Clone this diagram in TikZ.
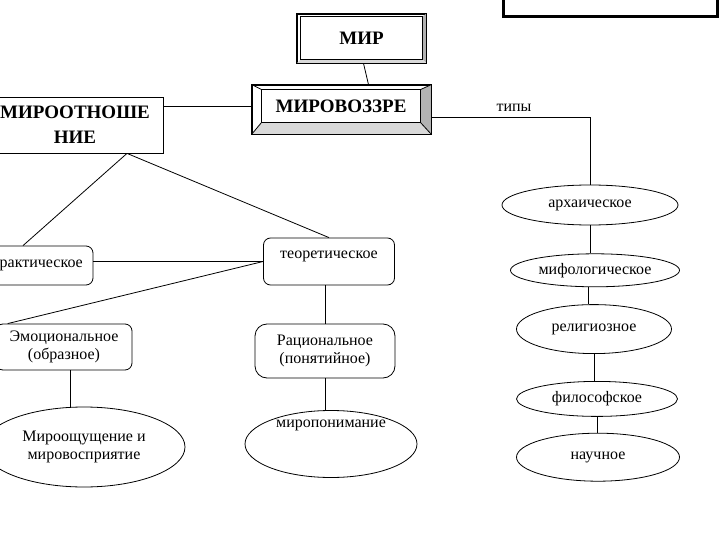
\documentclass[tikz,border=0pt]{standalone}
\usepackage{fontspec}
\setmainfont{Liberation Serif}
\usetikzlibrary{shapes, positioning, calc}

\begin{document}
\begin{tikzpicture}[x=1pt,y=-1pt,font=\fontsize{16}{17.5}\selectfont,line width=0.8pt]

	\tikzset{node title/.style={draw, font=\fontsize{19}{25}\selectfont\bfseries,
			align=center, inner sep=0pt}}
	\tikzset{node box/.style={draw, rounded corners=7pt, align=center, inner sep=0pt}}
	\tikzset{node oval/.style={draw, ellipse, align=center, inner sep=0pt}}
	\tikzset{bevel dark/.style={fill=gray!60}}
	\tikzset{bevel light/.style={fill=gray!30}}

	\useasboundingbox (0,0) rectangle (720,540);
	\clip (0,0) rectangle (720,540);

	% top: world and world view
	\node[node title, minimum width=129pt, minimum height=49pt] (Mir) at (361.5,38.5) {};
	\coordinate (Mir-nw) at ($(Mir.north west)+(4,3)$);
	\coordinate (Mir-se) at ($(Mir.south east)+(-4,-4)$);
	\fill[bevel dark] (Mir.north east) -- (Mir.south east) -- (Mir-se) -- (Mir-nw -| Mir-se) -- cycle;
	\fill[bevel light] (Mir.south west) -- (Mir.south east) -- (Mir-se) -- (Mir-nw |- Mir-se) -- cycle;
	\draw (Mir.north west) rectangle (Mir.south east);
	\draw[fill=white] (Mir-nw) rectangle (Mir-se);
	\node[font=\fontsize{19}{25}\selectfont\bfseries] (MirText) at ($(Mir-nw)!0.5!(Mir-se)$) {МИР};

	\node[node title, minimum width=179pt, minimum height=49pt] (Mv) at (341.5,109.5) {};
	\coordinate (Mv-nw) at ($(Mv.north west)+(10,5)$);
	\coordinate (Mv-se) at ($(Mv.south east)+(-11,-12)$);
	\fill[bevel dark] (Mv.north east) -- (Mv.south east) -- (Mv-se) -- (Mv-nw -| Mv-se) -- cycle;
	\fill[bevel light] (Mv.south west) -- (Mv.south east) -- (Mv-se) -- (Mv-nw |- Mv-se) -- cycle;
	\draw (Mv.north west) rectangle (Mv.south east);
	\draw (Mv.north west) -- (Mv-nw) (Mv.north east) -- (Mv-nw -| Mv-se)
		(Mv.south west) -- (Mv-nw |- Mv-se) (Mv.south east) -- (Mv-se);
	\draw[fill=white] (Mv-nw) rectangle (Mv-se);
	\node[font=\fontsize{19}{25}\selectfont\bfseries] (MvText) at ($(Mv-nw)!0.5!(Mv-se)$) {МИРОВОЗЗРЕ};

	\node[node title, minimum width=176pt, minimum height=56pt] (Mo) at (75,125) {МИРООТНОШЕ\\НИЕ};

	\node[draw, line width=3pt, minimum width=214pt, minimum height=40pt] (Note) at (610,-3) {};

	% left part
	\node[node box, minimum width=112pt, minimum height=39pt] (Pr) at (37,265.5) {практическое};
	\node[node box, minimum width=131pt, minimum height=47pt, text depth=14pt] (Te) at (329,261.5) {теоретическое};
	\node[node box, minimum width=136pt, minimum height=46pt] (Em) at (64,347) {Эмоциональное\\(образное)};
	\node[node box, rounded corners=12pt, minimum width=140pt, minimum height=54pt] (Ra) at (325,351) {Рациональное\\(понятийное)};

	\node[node oval, minimum width=202pt, minimum height=80pt] (E1) at (84,447) {Мироощущение и\\мировосприятие};
	\node[node oval, minimum width=172pt, minimum height=67pt,
		label={[yshift=19pt]center:миропонимание}] (E2) at (331,444) {};

	% right part: types
	\node[node oval, minimum width=176pt, minimum height=40pt] (Ar) at (590,205) {архаическое};
	\node[node oval, minimum width=169pt, minimum height=33pt, below=28pt of Ar, xshift=5pt] (Mf) {мифологическое};
	\node[node oval, minimum width=155pt, minimum height=49pt, below=17pt of Mf, xshift=-1pt] (Re) {религиозное};
	\node[node oval, minimum width=161pt, minimum height=35pt, below=27pt of Re, xshift=3pt] (Fi) {философское};
	\node[node oval, minimum width=163pt, minimum height=48pt, below=16pt of Fi, xshift=1pt] (Na) {научное};

	\node[anchor=base] (Types) at (514,112) {типы};

	% connectors
	\coordinate (MoB) at ($(Mo.south)+(52,0)$);
	\coordinate (EmB) at ($(Em.south)+(6,0)$);
	\draw ($(Mir.south)+(2,0)$) -- ($(Mv.north)+(27,0)$);
	\draw (Mo.east |- Mv.west) ++(0,-3) -- ($(Mv.west)+(0,-3)$);
	\draw ($(Mv.east)+(0,8)$) -| (Ar.north);
	\draw (MoB) -- ($(Pr.north)+(-14,0)$);
	\draw (MoB) -- (Te.north);
	\draw (Pr.east |- Te.west) -- (Te.west);
	\draw (Te.west) -- ($(Em.north west)+(12,0)$);
	\draw (Ra.north |- Te.south) -- (Ra.north);
	\draw (EmB) -- (EmB |- E1.north);
	\draw (Ra.south) -- (Ra.south |- E2.north);

	\draw (Ar.south) -- (Ar.south |- Mf.north);
	\draw ($(Mf.south)+(-7,0)$) -- ($(Re.north)+(-6,0)$);
	\draw (Re.south) -- (Re.south |- Fi.north);
	\draw (Fi.south) -- (Fi.south |- Na.north);

\end{tikzpicture}
\end{document}
